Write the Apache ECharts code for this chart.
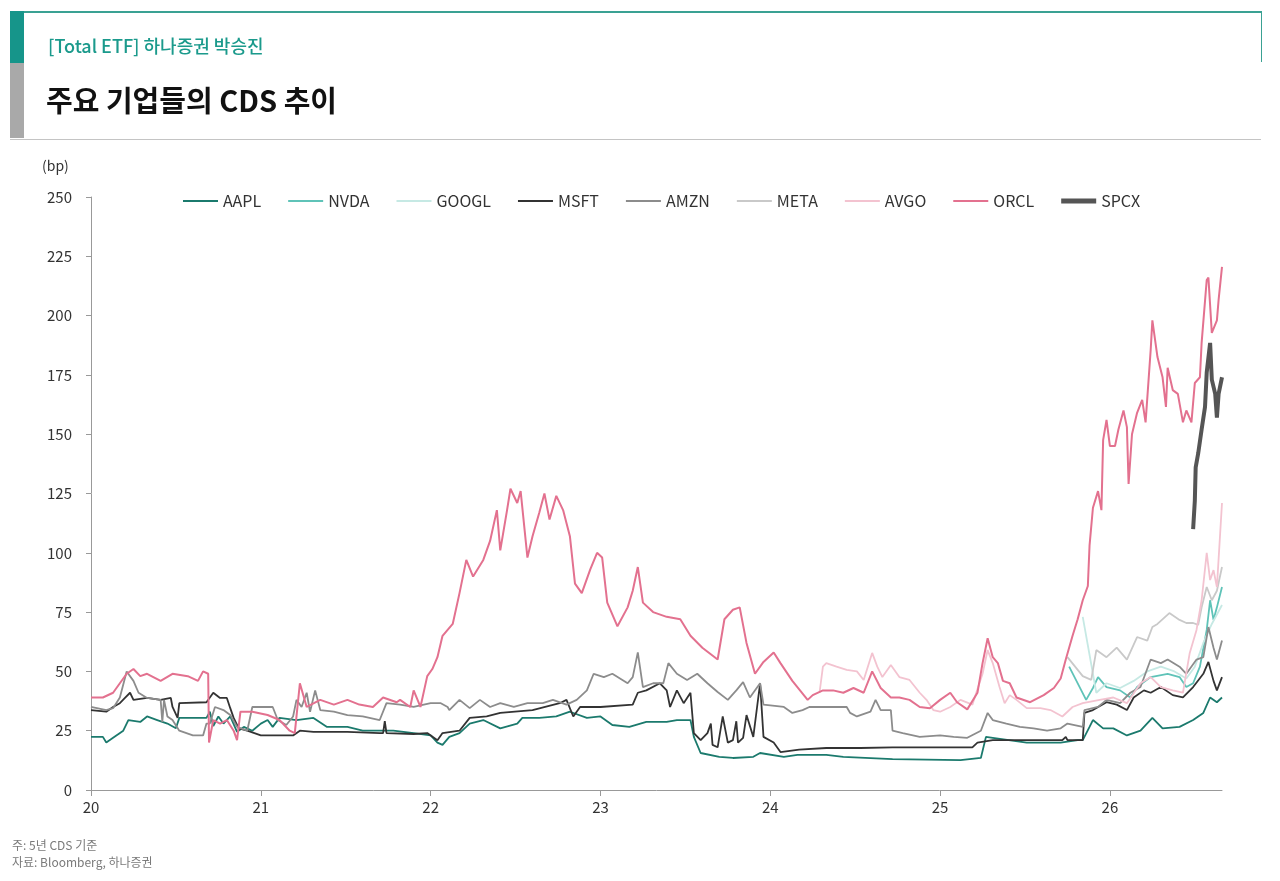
<!DOCTYPE html>
<html>
<head>
<meta charset="utf-8">
<script src="https://cdn.jsdelivr.net/npm/echarts@6/dist/echarts.min.js"></script>
<style>
  html, body { margin: 0; padding: 0; background: #fff; }
  body { width: 1280px; height: 881px; position: relative; overflow: hidden;
         font-family: "Noto Sans CJK KR", "Noto Sans", sans-serif; }
  #chart { position: absolute; left: 0; top: 0; width: 1280px; height: 881px; }
  .box { position: absolute; left: 10px; top: 11px; width: 1251px; height: 126px;
         border-top: 2px solid #3aa193; border-bottom: 1px solid #c4c4c4; }
  .rline { position: absolute; left: 1261px; top: 11px; width: 1px; height: 51px; background: #3aa193; }
  .bar1 { position: absolute; left: 10px; top: 11px; width: 14px; height: 52px; background: #16958a; }
  .bar2 { position: absolute; left: 10px; top: 63px; width: 14px; height: 75px; background: #a9a9a9; }
  .sub { position: absolute; left: 48px; top: 32px; font-size: 18px; font-weight: 500; color: #1b9a8c; }
  .title { position: absolute; left: 46px; top: 78px; font-size: 29px; font-weight: 700; color: #111; }
  .note { position: absolute; left: 12px; font-size: 12px; color: #7a7a7a; }
</style>
</head>
<body>
<div id="chart"></div>
<div class="box"></div>
<div class="rline"></div>
<div class="bar1"></div>
<div class="bar2"></div>
<div class="sub">[Total ETF] 하나증권 박승진</div>
<div class="title">주요 기업들의 CDS 추이</div>
<div class="note" style="top:836px">주: 5년 CDS 기준</div>
<div class="note" style="top:853px">자료: Bloomberg, 하나증권</div>
<script>
// x = 연도(20 = 2020년 초), y = CDS (bp)
const yTicks = [0, 25, 50, 75, 100, 125, 150, 175, 200, 225, 250];
const xTicks = [20, 21, 22, 23, 24, 25, 26];
const names = ["AAPL", "NVDA", "GOOGL", "MSFT", "AMZN", "META", "AVGO", "ORCL", "SPCX"];

const AAPL = [[20.00,22.4],[20.07,22.4],[20.09,20],[20.13,22],[20.19,25],[20.22,29.5],[20.29,28.7],[20.33,31],[20.39,29.5],[20.45,28],[20.50,26],[20.52,30.4],[20.68,30.4],[20.70,33],[20.72,27],[20.75,31],[20.78,28],[20.82,31],[20.86,24.5],[20.90,26.6],[20.95,25],[21.00,28],[21.04,29.5],[21.07,26.6],[21.11,30.4],[21.21,29.5],[21.31,30.4],[21.39,26.6],[21.51,26.6],[21.60,25],[21.70,25],[21.78,25],[21.90,24],[22.00,23],[22.04,20],[22.07,19],[22.11,22.4],[22.17,24],[22.23,28],[22.31,29.5],[22.41,26],[22.51,28],[22.54,30.4],[22.64,30.4],[22.74,31],[22.82,33],[22.92,30.4],[23.00,31],[23.07,27.4],[23.17,26.6],[23.27,28.7],[23.39,28.7],[23.45,29.5],[23.53,29.5],[23.55,22.4],[23.59,15.6],[23.70,14],[23.78,13.5],[23.90,14],[23.94,15.6],[24.08,14],[24.16,14.8],[24.33,14.8],[24.43,14],[24.72,13],[25.12,12.6],[25.24,13.5],[25.27,22.4],[25.31,22],[25.51,20],[25.71,20],[25.81,21],[25.84,21],[25.88,26.6],[25.90,29.5],[25.96,26],[26.02,26],[26.10,23],[26.18,25],[26.25,30.4],[26.31,26],[26.41,26.6],[26.49,29.5],[26.55,32.5],[26.59,39],[26.63,37],[26.66,39]];
const NVDA = [[25.76,52],[25.86,38],[25.90,43],[25.93,47.6],[25.98,43.4],[26.06,42],[26.12,39],[26.16,43.4],[26.24,47.6],[26.34,49],[26.41,47.6],[26.45,43.4],[26.49,45],[26.53,52],[26.57,67.5],[26.59,80],[26.61,71.7],[26.63,77],[26.66,85.6]];
const GOOGL = [[25.84,73],[25.92,41],[25.98,45],[26.06,43],[26.14,46],[26.22,50],[26.30,52],[26.38,50],[26.45,47],[26.50,52],[26.55,62],[26.60,70],[26.66,78]];
const MSFT = [[20.00,33.7],[20.09,33],[20.13,35],[20.17,36.6],[20.20,38.8],[20.23,41],[20.25,38],[20.33,38.8],[20.41,38],[20.47,38.8],[20.48,35],[20.51,30.4],[20.52,36.6],[20.68,37],[20.72,41],[20.76,38.8],[20.80,38.8],[20.82,34.5],[20.84,30.4],[20.87,26],[20.92,25],[21.00,23],[21.19,23],[21.23,25],[21.31,24.5],[21.51,24.5],[21.70,24],[21.72,24],[21.73,29],[21.74,24],[21.90,23.6],[21.98,24],[22.04,21],[22.07,24],[22.17,25],[22.23,30.4],[22.33,31],[22.41,32.5],[22.60,33.7],[22.76,36.6],[22.80,38],[22.84,31],[22.88,35],[23.00,35],[23.19,36],[23.22,41],[23.27,42],[23.35,45],[23.39,42],[23.41,35],[23.45,42],[23.49,36.6],[23.53,41],[23.55,24],[23.59,21],[23.63,24],[23.65,28],[23.66,19],[23.69,18],[23.72,31],[23.75,20],[23.78,21],[23.80,29],[23.81,20],[23.84,22],[23.86,31.6],[23.90,22.4],[23.94,45],[23.96,22.4],[24.02,20],[24.06,16],[24.17,17],[24.33,17.7],[24.53,17.7],[24.72,18],[24.94,18],[25.19,18],[25.22,20],[25.31,21],[25.51,21],[25.72,21],[25.74,22.4],[25.75,21],[25.84,21],[25.85,32.5],[25.90,33.7],[25.98,37],[26.04,36],[26.10,33.7],[26.14,39],[26.20,42],[26.24,41],[26.30,43.4],[26.37,40],[26.43,39],[26.49,43.4],[26.55,49],[26.58,54],[26.61,46],[26.63,42],[26.66,47.6]];
const AMZN = [[20.00,35],[20.09,33.7],[20.13,34.5],[20.17,39],[20.21,50],[20.25,46],[20.28,41],[20.33,38.8],[20.41,38],[20.42,28.7],[20.43,38],[20.45,31],[20.48,29.5],[20.52,25],[20.60,23],[20.66,23],[20.68,28],[20.70,28],[20.73,35],[20.78,33.7],[20.82,31.6],[20.86,26.6],[20.92,25],[20.95,35],[21.07,35],[21.10,29.5],[21.15,27.4],[21.19,31],[21.21,38],[21.24,35],[21.27,41],[21.29,33],[21.32,42],[21.35,33.7],[21.43,33],[21.51,31.6],[21.60,31],[21.70,29.5],[21.74,36.6],[21.82,36],[21.90,35],[22.00,36.6],[22.06,36.6],[22.10,35],[22.11,33.7],[22.17,38],[22.23,34.5],[22.29,38],[22.35,35],[22.41,36.6],[22.49,35],[22.57,36.6],[22.66,36.6],[22.72,38],[22.80,36],[22.86,38],[22.92,42],[22.96,49],[23.02,47.6],[23.07,49],[23.16,45],[23.19,47.6],[23.22,58],[23.25,43.4],[23.31,45],[23.37,45],[23.40,53.5],[23.45,49],[23.51,46.4],[23.57,49],[23.63,45],[23.69,41.3],[23.75,38],[23.80,42],[23.84,45.5],[23.88,39],[23.94,45],[23.96,36],[24.08,35],[24.13,32.5],[24.19,33.7],[24.23,35],[24.45,35],[24.47,32.5],[24.51,31],[24.59,33],[24.62,38],[24.65,33.7],[24.71,33.7],[24.72,25],[24.78,24],[24.88,22.4],[25.00,23],[25.08,22.4],[25.16,22],[25.24,25],[25.28,32.5],[25.31,29.5],[25.39,28],[25.47,26.6],[25.55,26],[25.63,25],[25.71,26],[25.75,28],[25.84,26.6],[25.85,33.7],[25.93,35],[25.98,38],[26.06,36.6],[26.12,41],[26.18,43.4],[26.24,55],[26.30,53.5],[26.34,55],[26.41,52],[26.45,49],[26.51,55],[26.55,56],[26.58,68.7],[26.61,60],[26.63,55],[26.66,63]];
const META = [[25.75,56],[25.84,48],[25.89,46.4],[25.92,59],[25.98,56],[26.04,60],[26.10,55],[26.16,64.5],[26.22,63],[26.25,68.7],[26.28,70],[26.35,74.6],[26.41,71.7],[26.45,70.4],[26.49,70.4],[26.52,69.6],[26.54,77],[26.57,85.6],[26.60,80],[26.63,84],[26.66,94]];
const AVGO = [[24.29,41],[24.31,52],[24.33,53.5],[24.39,52],[24.45,50.6],[24.51,50],[24.55,46.4],[24.60,57.8],[24.63,52],[24.66,47.6],[24.71,52.7],[24.76,47.6],[24.82,46.4],[24.88,41],[24.92,38],[24.96,33.7],[25.00,33],[25.06,35],[25.12,38],[25.19,36],[25.25,49],[25.28,59],[25.31,53.5],[25.35,43.4],[25.38,36.6],[25.41,40],[25.45,38],[25.51,34.5],[25.59,34.5],[25.65,33.7],[25.72,31],[25.78,35],[25.84,36.6],[25.94,38],[26.02,39],[26.10,36.6],[26.18,45],[26.24,47.6],[26.30,43.4],[26.37,42],[26.43,41],[26.47,57.8],[26.51,67.5],[26.54,80],[26.57,100],[26.59,88.5],[26.61,92.7],[26.63,85.6],[26.66,121]];
const ORCL = [[20.00,39],[20.07,39],[20.13,41],[20.17,45],[20.21,49],[20.25,51],[20.29,48],[20.33,49],[20.41,46],[20.48,49],[20.57,48],[20.63,46],[20.66,50],[20.69,49],[20.695,20],[20.72,29.5],[20.76,28],[20.80,29.5],[20.84,25],[20.86,21],[20.88,33],[20.95,33],[21.04,31.6],[21.11,29.5],[21.17,25],[21.20,24],[21.23,45],[21.27,35],[21.35,38],[21.43,36],[21.51,38],[21.58,36],[21.66,35],[21.72,39],[21.80,37],[21.82,38],[21.88,35],[21.90,42],[21.94,35],[21.98,48],[22.01,51],[22.04,56],[22.07,65],[22.13,70],[22.17,83],[22.21,97],[22.25,90],[22.31,97],[22.35,105],[22.39,118],[22.41,101],[22.45,118],[22.47,127],[22.51,121],[22.53,126],[22.57,98],[22.60,107],[22.64,117],[22.67,125],[22.70,114],[22.74,124],[22.78,118],[22.82,107],[22.85,87],[22.89,83],[22.94,93],[22.98,100],[23.01,98],[23.04,79],[23.10,69],[23.16,77],[23.19,84],[23.22,94],[23.25,79],[23.31,75],[23.39,73],[23.47,72],[23.53,65],[23.60,60],[23.69,55],[23.73,72],[23.78,76],[23.82,77],[23.86,62],[23.91,49],[23.96,54],[24.02,58],[24.06,53.5],[24.13,46],[24.22,38],[24.25,40],[24.31,42],[24.37,42],[24.43,41],[24.49,43],[24.55,41],[24.60,50],[24.65,43],[24.71,39],[24.76,39],[24.82,38],[24.88,35],[24.94,34.5],[25.00,38],[25.06,41],[25.10,37],[25.16,34],[25.22,41],[25.25,53.5],[25.28,64],[25.31,56],[25.34,53.5],[25.37,46],[25.41,45],[25.45,39],[25.53,37],[25.61,40],[25.67,43],[25.71,47],[25.74,55],[25.78,65],[25.81,72],[25.84,80],[25.87,86],[25.88,103],[25.90,119],[25.93,126],[25.95,118],[25.96,147.5],[25.98,156],[26.00,145],[26.03,145],[26.05,152],[26.08,160],[26.10,153],[26.11,129],[26.13,150],[26.16,159],[26.19,164.5],[26.21,155],[26.24,185.5],[26.25,198],[26.28,182.5],[26.31,174],[26.33,161.5],[26.34,178],[26.37,168.6],[26.40,167],[26.43,155],[26.45,160],[26.48,155],[26.50,171.6],[26.53,174],[26.54,188.5],[26.57,215],[26.58,216],[26.60,192.7],[26.63,198],[26.64,206.6],[26.66,220.5]];
const SPCX = [[26.49,110],[26.50,122],[26.505,136],[26.52,142],[26.54,152],[26.56,161.5],[26.57,176],[26.59,188.5],[26.60,173],[26.62,167],[26.63,157],[26.64,167],[26.66,174]];

const seriesData = [AAPL, NVDA, GOOGL, MSFT, AMZN, META, AVGO, ORCL, SPCX];
const colors = ["#1b7a6d", "#5fc3b8", "#c6e9e4", "#333333", "#8c8c8c", "#c9c9c9", "#f3c3d0", "#e3718f", "#555555"];
const widths = [1.8, 1.8, 1.8, 1.8, 1.8, 1.8, 1.8, 2, 4];

const chart = echarts.init(document.getElementById("chart"), null, { renderer: "canvas" });
const font = '"Noto Sans CJK KR", "Noto Sans", sans-serif';

// 범례 아이콘: 가는 선 / SPCX만 굵은 선
const thinIcon = "path://M0,0H35V2H0Z";
const thickIcon = "path://M0,0H35V5H0Z";

const option = {
  animation: false,
  backgroundColor: "transparent",
  textStyle: { fontFamily: font },
  graphic: [
    { type: "text", left: 42, top: 159, style: { text: "(bp)", fontSize: 14, fill: "#333", fontFamily: font } },
  ],
  legend: {
    top: 193,
    left: 183,
    itemWidth: 35,
    itemHeight: 12,
    itemGap: 27,
    padding: 0,
    data: names.map((n) => ({ name: n, icon: n === "SPCX" ? thickIcon : thinIcon })),
    textStyle: { fontSize: 16, color: "#333", fontFamily: font },
  },
  grid: { left: 91, right: 58, top: 197, bottom: 91, containLabel: false },
  xAxis: {
    type: "value",
    min: 20,
    max: 26.66,
    interval: 1,
    axisLine: { lineStyle: { color: "#999" } },
    axisTick: { show: true, length: 6, lineStyle: { color: "#999" } },
    splitLine: { show: false },
    axisLabel: {
      fontSize: 15, color: "#333", margin: 10, showMaxLabel: false,
      formatter: (v) => (xTicks.includes(v) ? String(v) : ""),
    },
  },
  yAxis: {
    type: "value",
    min: yTicks[0],
    max: yTicks[yTicks.length - 1],
    interval: 25,
    axisLine: { show: true, lineStyle: { color: "#999" } },
    axisTick: { show: true, length: 5, lineStyle: { color: "#999" } },
    splitLine: { show: false },
    axisLabel: { fontSize: 15, color: "#333", margin: 19 },
  },
  series: names.map((n, i) => ({
    name: n,
    type: "line",
    symbol: "none",
    data: seriesData[i],
    itemStyle: { color: colors[i] },
    lineStyle: { color: colors[i], width: widths[i] },
  })),
};

chart.setOption(option);
</script>
</body>
</html>
